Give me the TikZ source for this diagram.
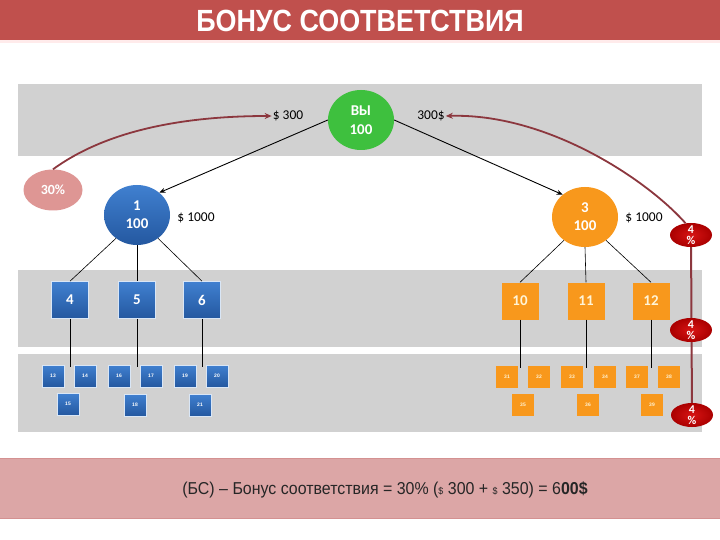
\documentclass[tikz,border=0pt]{standalone}
\usepackage{fontspec}
\setmainfont{Liberation Sans}
\newfontfamily\calfont{Carlito}
\usetikzlibrary{arrows.meta,shapes.geometric}
\definecolor{titlered}{RGB}{192,80,77}
\definecolor{bandgray}{RGB}{209,209,209}
\definecolor{pinkband}{RGB}{220,166,166}
\definecolor{pinkedge}{RGB}{212,145,145}
\definecolor{blueA}{RGB}{64,128,208}
\definecolor{blueB}{RGB}{36,88,160}
\definecolor{orangeA}{RGB}{248,152,28}
\definecolor{greenA}{RGB}{62,192,62}
\definecolor{salmon}{RGB}{222,150,148}
\definecolor{redA}{RGB}{215,20,20}
\definecolor{redB}{RGB}{170,0,0}
\definecolor{brownline}{RGB}{140,55,62}
\definecolor{paletext}{RGB}{255,244,214}
\begin{document}
\begin{tikzpicture}[x=1bp,y=-1bp,
  band/.style={fill=bandgray},
  circtext/.style={text=white,font=\calfont\bfseries\fontsize{15}{18}\selectfont,align=center},
  bcirc/.style={ellipse,minimum width=66bp,minimum height=60bp,inner sep=0pt,top color=blueA,bottom color=blueB,circtext},
  ocirc/.style={ellipse,minimum width=66bp,minimum height=60bp,inner sep=0pt,fill=orangeA,circtext},
  gcirc/.style={ellipse,minimum width=66bp,minimum height=60bp,inner sep=0pt,fill=greenA,circtext},
  bsq/.style={rectangle,minimum size=37bp,inner sep=0pt,top color=blueA,bottom color=blueB,draw=white!80!blueA,line width=0.6bp,text=white,font=\calfont\bfseries\fontsize{15}{17}\selectfont},
  osq/.style={rectangle,minimum size=37bp,inner sep=0pt,fill=orangeA,text=paletext,font=\calfont\bfseries\fontsize{15}{17}\selectfont},
  bsmall/.style={rectangle,minimum size=22bp,inner sep=0pt,top color=blueA,bottom color=blueB,draw=white!80!blueA,line width=0.5bp,text=white,font=\bfseries\fontsize{5}{6}\selectfont},
  osmall/.style={rectangle,minimum size=22bp,inner sep=0pt,fill=orangeA,text=paletext,font=\bfseries\fontsize{5}{6}\selectfont},
  money/.style={font=\calfont\fontsize{13.5}{15}\selectfont,text=black,inner sep=1bp},
  pct/.style={ellipse,minimum width=42bp,minimum height=24bp,inner sep=0pt,inner color=redA,outer color=redB},
  pcttext/.style={text=white,font=\calfont\bfseries\fontsize{12}{11}\selectfont,align=center},
  tree/.style={draw=black,line width=0.6bp},
  blkarrow/.style={draw=black,line width=0.9bp,-{Stealth[length=6bp,width=5bp]}},
  brarrow/.style={draw=brownline,line width=1.8bp,-{Stealth[length=7bp,width=6bp]}},
  brline/.style={draw=brownline,line width=2bp}
]
\useasboundingbox (0,0) rectangle (720,540);
\fill[white] (0,0) rectangle (720,540);
% title
\fill[titlered] (0,0) rectangle (720,40.5);
\fill[red!8] (0,40.5) rectangle (720,43);
\node[text=white,font=\bfseries\fontsize{27}{30}\selectfont] (title) at (360,20.5) {\scalebox{1}[1.14]{БОНУС СООТВЕТСТВИЯ}};
% bands
\fill[band] (18,84) rectangle (702,156);
\fill[band] (18,270) rectangle (702,347);
\fill[band] (18,354) rectangle (702,432);
\fill[pinkband,draw=pinkedge,line width=1bp] (-1,458) rectangle (721,518);
\node[text=black!85,font=\fontsize{16}{18}\selectfont] (formula) at (385,490) {\scalebox{1}[1.08]{(БС) – Бонус соответствия = 30\% ({\small\$} 300 + {\small\$} 350) = 6\textbf{00\$}}};

% main circles
\node[gcirc] (vy) at (361,120) {ВЫ\\[1bp]100};
\node[bcirc] (n1) at (137,215) {1\\100};
\node[ocirc] (n3) at (585,217) {3\\100};
\node[ellipse,minimum width=59bp,minimum height=41bp,inner sep=0pt,fill=salmon,text=white,font=\calfont\bfseries\fontsize{14}{15}\selectfont] (p30) at (53,190) {30\%};

% money labels
\node[money] (m300l) at (288,116) {\$ 300};
\node[money] (m300r) at (431,116) {300\$};
\node[money] (m1000l) at (196,218) {\$ 1000};
\node[money] (m1000r) at (644,218) {\$ 1000};

% level 2 squares
\node[bsq] (s4) at (70,300) {4};
\node[bsq] (s5) at (137,300) {5};
\node[bsq] (s6) at (202,300) {6};
\node[osq] (s10) at (520,301) {10};
\node[osq] (s11) at (586,301) {11};
\node[osq] (s12) at (651,301) {12};

% level 3 small squares
\node[bsmall] (s13) at (53,376) {13};
\node[bsmall] (s14) at (85,376) {14};
\node[bsmall] (s15) at (68,404) {15};
\node[bsmall] (s16) at (119,376) {16};
\node[bsmall] (s17) at (151,376) {17};
\node[bsmall] (s18) at (135,405) {18};
\node[bsmall] (s19) at (185,376) {19};
\node[bsmall] (s20) at (217,376) {20};
\node[bsmall] (s21) at (200,405) {21};
\node[osmall] (s31) at (507,377) {31};
\node[osmall] (s32) at (539,377) {32};
\node[osmall] (s35) at (523,405) {35};
\node[osmall] (s33) at (572,377) {33};
\node[osmall] (s34) at (605,377) {34};
\node[osmall] (s36) at (588,405) {36};
\node[osmall] (s37) at (637,377) {37};
\node[osmall] (s38) at (669,377) {38};
\node[osmall] (s39) at (652,405) {39};

% tree lines
\draw[tree] (n1.228) -- (s4.north);
\draw[tree] (n1.south) -- (s5.north);
\draw[tree] (n1.312) -- (s6.north);
\draw[tree] (n3.228) -- (s10.north);
\draw[tree] (n3.south) -- (s11.north);
\draw[tree] (n3.312) -- (s12.north);
\foreach \s in {4,5,6,10,11,12}{
  \path (s\s.south) ++(0,48) coordinate (d\s);
  \draw[tree] (s\s.south) -- (d\s);
}

% black arrows
\draw[blkarrow] (vy.west) -- (n1.45);
\draw[blkarrow] (vy.east) -- (n3.135);

% 4% ellipses and brown connectors
\coordinate (q1c) at (691,235);
\coordinate (q3c) at (692,415);
\draw[brline] (q1c) -- (q3c);
\node[pct,label={[pcttext]center:{4\\\%}}] (q1) at (q1c) {};
\node[pct,label={[pcttext]center:{4\\\%}}] (q2) at (691,330) {};
\node[pct,label={[pcttext]center:{4\\\%}}] (q3) at (q3c) {};

\draw[brarrow] (p30.north) .. controls +(55,-40) and +(-85,0) .. (m300l.west);
\draw[brarrow] (q1.115) .. controls +(-40,-45) and +(100,-3) .. (m300r.east);
\end{tikzpicture}
\end{document}
